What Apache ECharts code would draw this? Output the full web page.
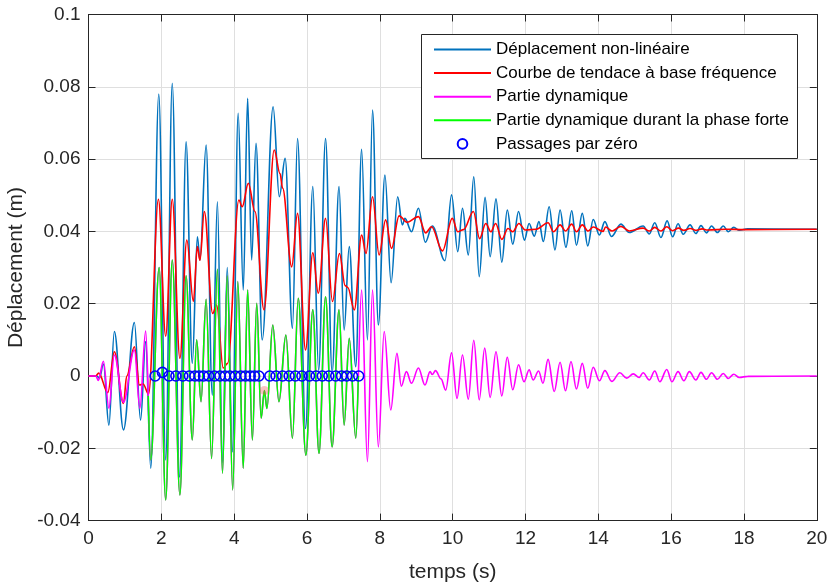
<!DOCTYPE html>
<html><head><meta charset="utf-8">
<script src="https://cdn.jsdelivr.net/npm/echarts@6/dist/echarts.min.js"></script>
<style>html,body{margin:0;padding:0;background:#fff}#c{width:828px;height:583px}</style>
</head><body><div id="c"></div>
<script>
// ---- axes ----
const xMin = 0, xMax = 20, xStep = 2;
const yMin = -0.04, yMax = 0.1, yStep = 0.02;
const xAxisTitle = 'temps (s)';
const yAxisTitle = 'Déplacement (m)';
const seriesNames = ['Déplacement non-linéaire', 'Courbe de tendace à base fréquence', 'Partie dynamique', 'Partie dynamique durant la phase forte', 'Passages par zéro'];

// ---- Déplacement non-linéaire (extrema) [t, m] ----
const totalDisp = [
 [0,0],[0.22,0],[0.3,-0.0006],[0.41,0.0033],[0.56,-0.0136],[0.71,0.0123],[0.96,-0.0149],[1.26,0.0148],[1.43,-0.0122],[1.57,0.0095],
 [1.71,-0.0255],[1.93,0.078],[2.12,-0.0232],[2.30,0.081],[2.50,-0.028],[2.68,0.0648],[2.85,0.0035],[2.99,0.0385],[3.06,0.032],[3.23,0.0639],
 [3.40,-0.0053],[3.54,0.0482],[3.68,-0.024],[3.81,0.030],[3.95,-0.021],[4.11,0.0727],[4.25,0.0238],[4.37,0.0768],[4.48,0.0321],[4.60,0.0644],
 [4.77,0.010],[5.07,0.0745],[5.24,0.0496],[5.40,0.0602],[5.60,0.0132],[5.74,0.0657],[5.96,-0.0145],[6.16,0.0524],[6.32,0.0015],[6.51,0.0657],
 [6.69,0.001],[6.88,0.0524],[7.02,0.0127],[7.16,0.0358],[7.34,0.0026],[7.50,0.0627],[7.66,0.010],[7.80,0.0736],[7.96,0.0141],[8.14,0.0556],
 [8.31,0.0258],[8.49,0.0496],[8.62,0.0418],[8.69,0.0436],[8.87,0.0399],[9.06,0.0464],[9.25,0.0370],[9.44,0.0415],[9.79,0.0319],[9.97,0.0501],
 [10.14,0.0344],[10.27,0.0464],[10.43,0.0335],[10.58,0.0551],[10.73,0.0275],[10.89,0.0494],[11.03,0.033],[11.19,0.049],[11.35,0.0315],[11.50,0.0459],
 [11.65,0.0365],[11.81,0.0455],[11.97,0.0376],[12.10,0.0422],[12.24,0.0387],[12.37,0.0427],[12.49,0.0372],[12.65,0.0468],[12.81,0.0349],[12.95,0.0459],
 [13.11,0.0356],[13.27,0.0457],[13.40,0.0362],[13.56,0.045],[13.71,0.036],[13.86,0.0433],[14.03,0.039],[14.18,0.0427],[14.36,0.0386],[14.62,0.042],
 [14.85,0.0397],[15.23,0.0415],[15.40,0.0393],[15.55,0.0424],[15.72,0.0383],[15.89,0.0429],[16.04,0.0385],[16.19,0.0421],[16.33,0.0392],[16.52,0.0418],
 [16.68,0.0394],[16.82,0.0416],[16.97,0.0396],[17.11,0.0415],[17.27,0.0397],[17.43,0.0415],[17.57,0.0399],[17.72,0.0411],[17.87,0.0403],[18.1,0.0407],[20,0.0406]
];

// ---- Courbe de tendance [t, m] ----
const trendDisp = [
 [0,0],[0.2,0],[0.28,0.0008],[0.53,-0.0046],[0.71,0.0067],[0.96,-0.0076],[1.05,0.0],[1.26,0.0081],[1.40,-0.0025],[1.50,-0.0022],
 [1.65,-0.005],[1.92,0.0489],[2.12,0.011],[2.30,0.0489],[2.51,0.0049],[2.70,0.0376],[2.88,0.0206],[2.99,0.0358],[3.06,0.032],[3.18,0.0455],
 [3.41,0.0173],[3.52,0.0196],[3.70,0.0022],[3.82,0.0035],[4.13,0.0487],[4.22,0.0468],[4.39,0.0533],[4.57,0.0455],[4.82,0.0183],[5.10,0.0625],
 [5.26,0.056],[5.33,0.052],[5.58,0.0302],[5.74,0.045],[5.96,0.0072],[6.16,0.0341],[6.31,0.0229],[6.51,0.0436],[6.70,0.0206],[6.89,0.0339],
 [7.05,0.025],[7.12,0.0245],[7.30,0.0183],[7.50,0.039],[7.62,0.0339],[7.80,0.0496],[7.98,0.0335],[8.16,0.0432],[8.32,0.0353],[8.53,0.0443],
 [8.75,0.0425],[9.06,0.0441],[9.26,0.0396],[9.42,0.0413],[9.72,0.0346],[9.99,0.0436],[10.14,0.0399],[10.3,0.0405],[10.57,0.0455],[10.74,0.038],
 [10.91,0.0422],[11.05,0.0399],[11.18,0.0422],[11.35,0.0378],[11.52,0.0408],[11.65,0.0399],[11.82,0.0422],[11.99,0.0404],[12.3,0.0406],[12.62,0.0424],
 [12.77,0.0399],[12.95,0.0418],[13.10,0.0401],[13.27,0.042],[13.40,0.0399],[13.56,0.0418],[13.72,0.0401],[13.86,0.0412],[14.13,0.04],[14.2,0.0412],
 [14.38,0.0401],[14.62,0.0414],[14.85,0.0401],[15.23,0.0409],[15.40,0.0401],[15.55,0.0411],[15.72,0.0401],[15.88,0.0413],[16.04,0.0402],[16.2,0.0409],
 [16.35,0.0403],[16.52,0.0408],[16.7,0.0403],[16.85,0.0407],[17.0,0.0404],[17.5,0.0406],[18,0.0405],[20,0.0406]
];

// ---- Partie dynamique : avant / pendant / après la phase forte [t, m] ----
const dynBefore = [
 [0,0],[0.2,0],[0.27,-0.0012],[0.41,0.0041],[0.56,-0.0089],[0.71,0.0058],[0.96,-0.0073],[1.26,0.0072],[1.41,-0.0089],[1.57,0.0124]
];
const dynStrong = [
 [1.71,-0.0232],[1.94,0.030],[2.12,-0.0343],[2.30,0.0321],[2.51,-0.0329],[2.68,0.0277],[2.85,-0.0177],[2.97,0.010],[3.09,-0.0071],[3.23,0.0212],
 [3.38,-0.0228],[3.54,0.0295],[3.68,-0.0269],[3.81,0.0277],[3.96,-0.0315],[4.10,0.0261],[4.25,-0.0255],[4.37,0.0238],[4.50,-0.0177],[4.62,0.0201],
 [4.74,-0.0117],[4.83,-0.004],[4.90,-0.009],[5.06,0.0141],[5.23,-0.0071],[5.42,0.0113],[5.60,-0.0172],[5.76,0.0215],[5.97,-0.0219],[6.16,0.0183],
 [6.33,-0.0214],[6.51,0.0219],[6.69,-0.0196],[6.88,0.0183],[7.02,-0.0136],[7.16,0.0104],[7.34,-0.0172]
];
const strongStart = [1.64,-0.0055];
const strongEnd = [7.41,0.0];
const dynAfter = [
 [7.50,0.0238],[7.66,-0.0237],[7.80,0.0238],[7.96,-0.0196],[8.12,0.0123],[8.30,-0.0094],[8.47,0.0063],[8.59,-0.0028],[8.73,0.0012],[8.87,-0.002],
 [9.06,0.0022],[9.24,-0.0025],[9.38,0.0012],[9.44,0.0004],[9.53,0.0015],[9.68,-0.0008],[9.81,-0.0039],[9.97,0.0064],[10.12,-0.0062],[10.27,0.0058],
 [10.43,-0.0064],[10.58,0.0099],[10.73,-0.0066],[10.88,0.0077],[11.03,-0.0059],[11.19,0.0067],[11.35,-0.0055],[11.50,0.0052],[11.65,-0.0038],[11.81,0.0031],
 [11.96,-0.0016],[12.10,0.0017],[12.21,-0.0011],[12.36,0.0014],[12.48,-0.002],[12.62,0.0046],[12.79,-0.0043],[12.95,0.0038],[13.10,-0.0041],[13.25,0.004],
 [13.40,-0.0036],[13.56,0.0035],[13.71,-0.0034],[13.86,0.0024],[14.03,-0.0013],[14.18,0.0015],[14.37,-0.0015],[14.59,0.0009],[14.78,-0.0006],[14.96,0.0006],
 [15.12,-0.0004],[15.23,0.0009],[15.40,-0.0011],[15.55,0.0014],[15.69,-0.0016],[15.88,0.0018],[16.02,-0.0016],[16.19,0.0012],[16.35,-0.0013],[16.50,0.0012],
 [16.68,-0.0011],[16.82,0.001],[16.97,-0.0009],[17.11,0.0009],[17.27,-0.0009],[17.43,0.0007],[17.57,-0.0007],[17.72,0.0005],[17.87,-0.0004],[18.1,-0.0001],[20,0]
];

// ---- Passages par zéro [t, m] ----
const zeroCrossings = [
 [1.83,0],[2.03,0.001],[2.21,0],[2.40,0],[2.59,0],[2.77,0],[2.92,0],[3.04,0],[3.16,0],[3.30,0],
 [3.46,0],[3.61,0],[3.75,0],[3.88,0],[4.03,0],[4.18,0],[4.31,0],[4.44,0],[4.56,0],[4.68,0],
 [4.98,0],[5.15,0],[5.33,0],[5.51,0],[5.68,0],[5.86,0],[6.07,0],[6.25,0],[6.42,0],[6.60,0],
 [6.79,0],[6.95,0],[7.09,0],[7.25,0],[7.42,0]
];
const faintMarker = [[4.83,-0.004]];

const FONT = '"Liberation Sans", Arial, Helvetica, sans-serif';
const AX = '#262626';
const GRIDC = '#dfdfdf';

const chart = echarts.init(document.getElementById('c'), null, {renderer: 'canvas'});
const yFmt = v => String(+v.toFixed(2));
const baseX = {type: 'value', min: xMin, max: xMax, interval: xStep};
const baseY = {type: 'value', min: yMin, max: yMax, interval: yStep};
const axLine = {onZero: false, lineStyle: {color: AX, width: 1}};
const axTick = {inside: true, length: 7, lineStyle: {color: AX}};
const lineBase = {type: 'line', symbol: 'none', smooth: 0.36, smoothMonotone: 'x', silent: true, z: 2,
                  emphasis: {disabled: true}};

chart.setOption({
  animation: false,
  backgroundColor: '#fff',
  grid: {left: 88.5, right: 11.2, top: 14.5, bottom: 62.4, show: false, containLabel: false, outerBoundsMode: 'none'},
  xAxis: [
    Object.assign({}, baseX, {position: 'bottom',
      name: xAxisTitle, nameLocation: 'middle', nameGap: 41,
      nameTextStyle: {fontSize: 21, color: AX, fontFamily: FONT},
      axisLine: axLine, axisTick: axTick,
      axisLabel: {fontSize: 19, color: AX, fontFamily: FONT, margin: 9},
      splitLine: {show: true, lineStyle: {color: GRIDC, width: 1}}}),
    Object.assign({}, baseX, {position: 'top',
      axisLine: axLine, axisTick: axTick,
      axisLabel: {show: false}, splitLine: {show: false}})
  ],
  yAxis: [
    Object.assign({}, baseY, {position: 'left',
      name: yAxisTitle, nameLocation: 'middle', nameGap: 49,
      nameTextStyle: {fontSize: 21, color: AX, fontFamily: FONT},
      axisLine: axLine, axisTick: axTick,
      axisLabel: {fontSize: 19, color: AX, fontFamily: FONT, margin: 8, formatter: yFmt},
      splitLine: {show: true, lineStyle: {color: GRIDC, width: 1}}}),
    Object.assign({}, baseY, {position: 'right',
      axisLine: axLine, axisTick: axTick,
      axisLabel: {show: false}, splitLine: {show: false}})
  ],
  legend: {
    orient: 'vertical', left: 433, top: 41, padding: 0,
    itemWidth: 57, itemHeight: 12, itemGap: 6.6, z: 20,
    textStyle: {fontSize: 17, color: '#000', fontFamily: FONT},
    selectedMode: false,
    data: [
      {name: seriesNames[0], itemStyle: {opacity: 0}},
      {name: seriesNames[1], itemStyle: {opacity: 0}},
      {name: seriesNames[2], itemStyle: {opacity: 0}},
      {name: seriesNames[3], itemStyle: {opacity: 0}},
      {name: seriesNames[4], lineStyle: {opacity: 0}}
    ]
  },
  graphic: [{type: 'rect', z: 15, shape: {x: 421.5, y: 34.5, width: 376, height: 124},
             style: {fill: '#fff', stroke: AX, lineWidth: 1}}],
  series: [
    Object.assign({}, lineBase, {name: seriesNames[0], data: totalDisp,
      lineStyle: {color: '#0072BD', width: 1.6}, itemStyle: {color: '#0072BD'}}),
    Object.assign({}, lineBase, {name: seriesNames[1], data: trendDisp,
      lineStyle: {color: '#FF0000', width: 1.6}, itemStyle: {color: '#FF0000'}}),
    Object.assign({}, lineBase, {name: seriesNames[2], data: dynBefore.concat(dynStrong, dynAfter),
      lineStyle: {color: '#FF00FF', width: 1.6}, itemStyle: {color: '#FF00FF'}}),
    Object.assign({}, lineBase, {name: seriesNames[3], data: [strongStart].concat(dynStrong, [strongEnd]),
      lineStyle: {color: '#00FF00', width: 1.6}, itemStyle: {color: '#00FF00'}}),
    {type: 'line', name: seriesNames[4], data: zeroCrossings, silent: true, z: 3,
      symbol: 'circle', symbolSize: 10, showSymbol: true, showAllSymbol: true,
      lineStyle: {width: 0, opacity: 0},
      itemStyle: {color: 'rgba(0,0,0,0)', borderColor: '#0000FF', borderWidth: 1.6},
      emphasis: {disabled: true}},
    {type: 'scatter', name: 'marker', data: faintMarker, silent: true, z: 3,
      symbol: 'circle', symbolSize: 9, itemStyle: {color: 'rgba(240,90,90,0.45)'}}
  ]
});
</script></body></html>
